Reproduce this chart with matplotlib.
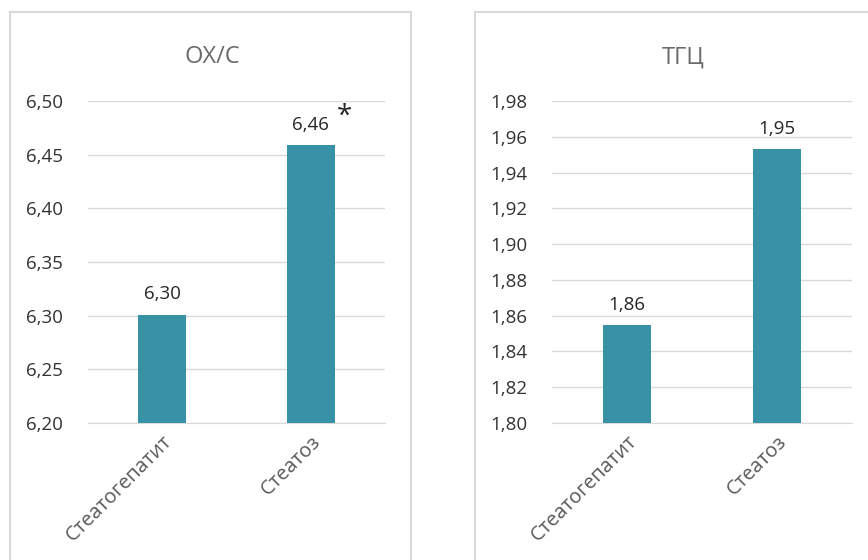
import matplotlib.pyplot as plt
from matplotlib.patches import Rectangle

plt.rcParams['font.family'] = ['Open Sans', 'DejaVu Sans']

categories = ['Стеатогепатит', 'Стеатоз']
oxc_values = [6.301, 6.459]
tgc_values = [1.855, 1.953]
oxc_labels = ['6,30', '6,46']
tgc_labels = ['1,86', '1,95']
oxc_ticks = [6.20, 6.25, 6.30, 6.35, 6.40, 6.45, 6.50]
tgc_ticks = [1.80, 1.82, 1.84, 1.86, 1.88, 1.90, 1.92, 1.94, 1.96, 1.98]

bar_color = '#3892a6'
grid_color = '#d9d9d9'
W, H = 868, 560

fig = plt.figure(figsize=(W / 100, H / 100), dpi=100)

# panel frames (bottom runs off the image)
for x0, x1 in [(10, 411), (475, 900)]:
    fig.patches.append(Rectangle((x0 / W, -0.1), (x1 - x0) / W, 1.1 - 12 / H,
                                 transform=fig.transFigure, fill=False,
                                 edgecolor=grid_color, linewidth=1.5, clip_on=False))


def panel(rect, title, title_x, values, labels, ticks, fmt, star=None):
    ax = fig.add_axes(rect)
    x = range(len(categories))
    bars = ax.bar(x, values, width=0.32, color=bar_color, zorder=3)
    ax.set_ylim(ticks[0], ticks[-1])
    ax.set_xlim(-0.5, len(categories) - 0.5)
    ax.set_yticks(ticks)
    ax.set_yticklabels([fmt.format(t).replace('.', ',') for t in ticks],
                       fontsize=13.5, color='#333333')
    ax.set_xticks(list(x))
    ax.set_xticklabels(categories, rotation=45, ha='right', rotation_mode='anchor',
                       fontsize=14.5, color='#595959')
    ax.tick_params(length=0, axis='y', pad=18)
    ax.tick_params(length=0, axis='x', pad=6)
    ax.grid(axis='y', color=grid_color, linewidth=1, zorder=0)
    for s in ['top', 'right', 'left']:
        ax.spines[s].set_visible(False)
    ax.spines['bottom'].set_color(grid_color)
    for b, lab in zip(bars, labels):
        ax.annotate(lab, (b.get_x() + b.get_width() / 2, b.get_height()),
                    xytext=(0, 8), textcoords='offset points', ha='center', va='bottom',
                    fontsize=13.5, color='#262626')
    if star is not None:
        b = bars[star]
        ax.annotate('*', (b.get_x() + b.get_width() / 2, b.get_height()),
                    xytext=(24, 10), textcoords='offset points', ha='center', va='bottom',
                    fontsize=20, color='#262626')
    fig.text(title_x / W, 1 - 57 / H, title, ha='center', va='center',
             fontsize=17, color='#6b6b6b')
    return ax


panel([88 / W, 1 - 423 / H, 297 / W, 322 / H], 'ОХ/С', 212, oxc_values, oxc_labels,
      oxc_ticks, '{:.2f}', star=1)
panel([552 / W, 1 - 423 / H, 300 / W, 322 / H], 'ТГЦ', 683, tgc_values, tgc_labels,
      tgc_ticks, '{:.2f}')

fig.savefig('out.png', dpi=100)
